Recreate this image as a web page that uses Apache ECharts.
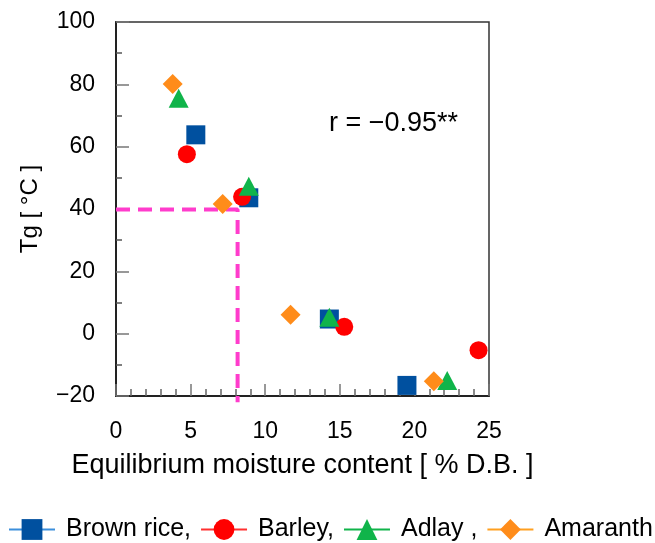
<!DOCTYPE html>
<html><head><meta charset="utf-8">
<script src="https://cdn.jsdelivr.net/npm/echarts@6/dist/echarts.min.js"></script>
<style>html,body{margin:0;padding:0;background:#fff}#c{width:655px;height:543px}</style>
</head><body><div id="c"></div>
<script>
const seriesNames = ['Brown rice,', 'Barley,', 'Adlay ,', 'Amaranth'];
const brownRice = [[5.35, 63.8], [8.9, 43.6], [14.3, 4.7], [19.5, -16.6]];
const barley = [[4.75, 57.6], [8.45, 43.9], [15.3, 2.2], [24.3, -5.3]];
const adlay = [[4.2, 75.5], [8.9, 47.3], [14.3, 5.3], [22.2, -15.0]];
const amaranth = [[3.8, 80.1], [7.15, 41.6], [11.7, 6.1], [21.3, -15.3]];
const guideLine = [[0, 39.8], [8.15, 39.8], [8.15, -22]];
const xTicks = [0, 5, 10, 15, 20, 25];
const yTicks = [-20, 0, 20, 40, 60, 80, 100];
const annotation = 'r = \u22120.95**';

const FONT = '"Liberation Sans", Arial, sans-serif';
const colors = ['#00509f', '#ff0000', '#10b44a', '#ff8c1a'];
const legendLine = ['#3c8fdc', '#ff3030', '#10b44a', '#ffa020'];
const symbols = ['rect', 'circle', 'triangle', 'diamond'];
const sizes = [19, 18, [20, 19], 20];
const datasets = [brownRice, barley, adlay, amaranth];

const chart = echarts.init(document.getElementById('c'));
const series = datasets.map((d, i) => ({
  name: seriesNames[i], type: 'line', data: d,
  symbol: symbols[i], symbolSize: sizes[i], showSymbol: true,
  itemStyle: { color: colors[i], opacity: 1 },
  lineStyle: { width: 0, opacity: 0, color: colors[i] },
  z: 3 + i, animation: false
}));
series.push({
  name: 'guide', type: 'line', data: guideLine, symbol: 'none', clip: false,
  lineStyle: { color: '#ff3ccc', width: 4, type: [14, 8] }, z: 2, animation: false, silent: true
});

chart.setOption({
  animation: false,
  grid: { left: 116, top: 22, right: 166, bottom: 147, show: true, borderColor: '#333', borderWidth: 1.5, backgroundColor: 'transparent' },
  xAxis: {
    type: 'value', min: xTicks[0], max: xTicks[xTicks.length - 1], interval: 5,
    name: 'Equilibrium moisture content [ % D.B. ]', nameLocation: 'middle', nameGap: 56,
    nameTextStyle: { fontFamily: FONT, fontSize: 27, color: '#000' },
    axisLine: { onZero: false, lineStyle: { color: '#222', width: 2 } },
    axisTick: { inside: true, length: 12, lineStyle: { color: '#777', width: 1.5 } },
    minorTick: { show: true, splitNumber: 5, length: 7, lineStyle: { color: '#666', width: 1.5 } },
    axisLabel: { fontFamily: FONT, fontSize: 23, color: '#000', margin: 24 },
    splitLine: { show: false }
  },
  yAxis: {
    type: 'value', min: yTicks[0], max: yTicks[yTicks.length - 1], interval: 20,
    name: 'Tg [ \u00b0C ]', nameLocation: 'middle', nameGap: 74,
    nameTextStyle: { fontFamily: FONT, fontSize: 24, color: '#000' },
    axisLine: { onZero: false, lineStyle: { color: '#222', width: 2 } },
    axisTick: { inside: true, length: 13, lineStyle: { color: '#777', width: 1.5 } },
    minorTick: { show: true, splitNumber: 2, length: 6, lineStyle: { color: '#555', width: 1.5 } },
    axisLabel: { fontFamily: FONT, fontSize: 23, color: '#000', margin: 21,
      formatter: v => String(v).replace('-', '\u2212') },
    splitLine: { show: false }
  },
  legend: {
    data: seriesNames.map((n, i) => ({ name: n, lineStyle: { color: legendLine[i], width: 2, opacity: 1 } })),
    left: 2, top: 513, width: 653, padding: [4, 6, 0, 6], itemWidth: 46, itemHeight: 26, itemGap: 9,
    textStyle: { fontFamily: FONT, fontSize: 25, color: '#000', padding: [0, 0, 0, 6] }
  },
  graphic: [{ type: 'text', left: 329, top: 110,
    style: { text: annotation, font: '27px ' + FONT, fill: '#000' } }],
  series: series
});
</script></body></html>
